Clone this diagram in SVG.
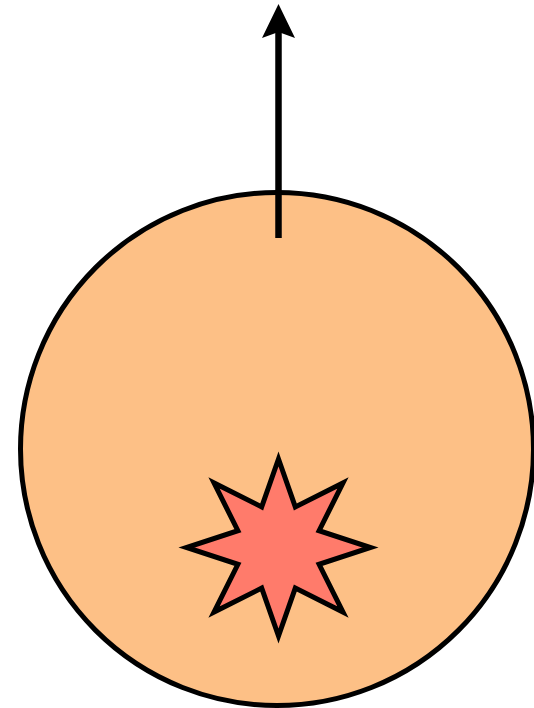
<svg xmlns="http://www.w3.org/2000/svg" width="534" height="708" viewBox="0 0 534 708">
<style>
.outline{stroke:#000;stroke-width:5}
</style>
<rect width="534" height="708" fill="#fff"/>
<g id="body">
<circle class="outline" cx="277" cy="449" r="256.5" fill="#fdc086"/>
</g>
<g id="star">
<polygon class="outline" fill="#ff7b6b" stroke-miterlimit="10" points="278.5,459 295.3,506.9 343,482.9 319.1,530.7 370.5,547.5 319.1,564.3 343,612.1 295.3,588.1 278.5,636 261.7,588.1 214,612.1 237.9,564.3 186.5,547.5 237.9,530.7 214,482.9 261.7,506.9"/>
</g>
<g id="connectors">
<line x1="278.5" y1="238" x2="278.5" y2="30" stroke="#000" stroke-width="6.5"/>
<polygon points="278.5,4 295,38 278.5,32 262,38" fill="#000"/>
</g>
</svg>
